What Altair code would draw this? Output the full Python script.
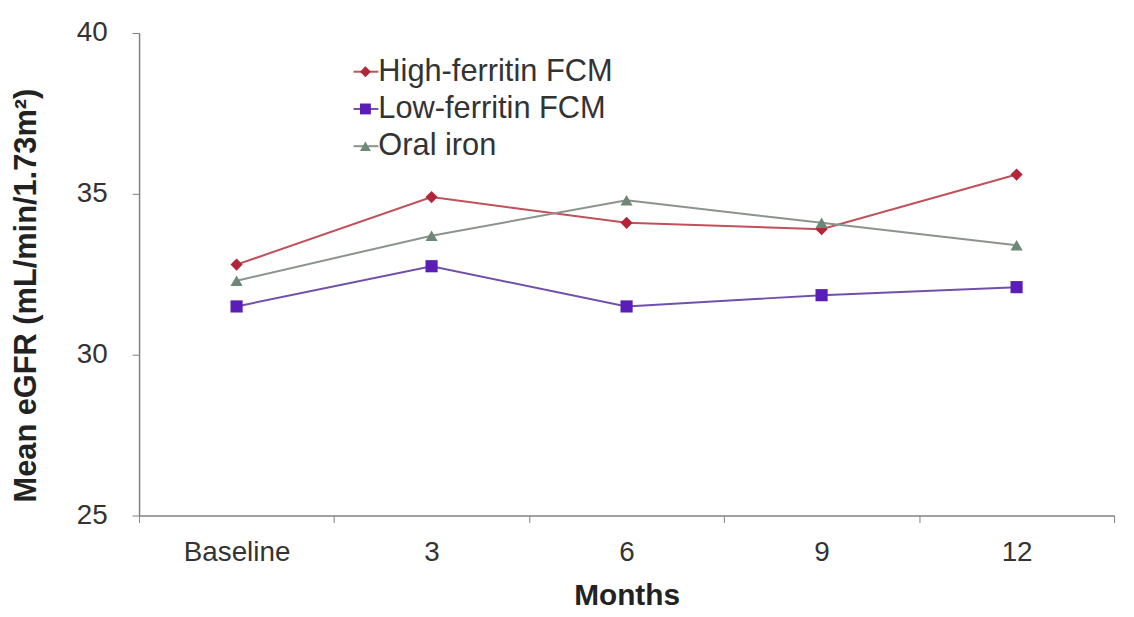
import altair as alt
import pandas as pd

months = ["Baseline", "3", "6", "9", "12"]
series_names = ["High-ferritin FCM", "Low-ferritin FCM", "Oral iron"]
high_ferritin = [32.8, 34.9, 34.1, 33.9, 35.6]
low_ferritin = [31.5, 32.75, 31.5, 31.85, 32.1]
oral_iron = [32.3, 33.7, 34.8, 34.1, 33.4]

marker_colors = ["#b3263a", "#5a1db8", "#6f8776"]
line_colors = ["#c0505a", "#7050a8", "#8a948c"]
shapes = ["diamond", "square", "triangle-up"]

rows = []
for name, vals in zip(series_names, [high_ferritin, low_ferritin, oral_iron]):
    for m, v in zip(months, vals):
        rows.append({"month": m, "series": name, "egfr": v})
df = pd.DataFrame(rows)
legend_df = pd.DataFrame({"series": series_names})

font = "Liberation Sans"

x_enc = alt.X(
    "month:N",
    sort=months,
    bandPosition=0.5,
    scale=alt.Scale(type="band", paddingInner=0, paddingOuter=0),
    axis=alt.Axis(
        title="Months",
        tickBand="extent",
        labelAngle=0,
        labelFontSize=28,
        labelColor="#333333",
        labelFont=font,
        labelPadding=16,
        tickSize=7,
        tickColor="#808080",
        domainColor="#808080",
        domainWidth=1.5,
        titleFontSize=30,
        titleFont=font,
        titleFontWeight="bold",
        titleColor="#222222",
        titlePadding=15,
    ),
)
y_enc = alt.Y(
    "egfr:Q",
    scale=alt.Scale(domain=[25, 40], nice=False, zero=False),
    axis=alt.Axis(
        title="Mean eGFR (mL/min/1.73m²)",
        values=[25, 30, 35, 40],
        grid=False,
        labelFontSize=28,
        labelColor="#333333",
        labelFont=font,
        labelPadding=25,
        tickSize=7,
        tickColor="#808080",
        domainColor="#808080",
        domainWidth=1.5,
        titleFontSize=31,
        titleFont=font,
        titleFontWeight="bold",
        titleColor="#222222",
        titlePadding=34,
        titleY=264,
    ),
)

stroke_enc = alt.Stroke(
    "series:N",
    sort=series_names,
    scale=alt.Scale(domain=series_names, range=line_colors),
    legend=None,
)
color_enc = alt.Color(
    "series:N",
    sort=series_names,
    scale=alt.Scale(domain=series_names, range=marker_colors),
    legend=None,
)
shape_enc = alt.Shape(
    "series:N",
    sort=series_names,
    scale=alt.Scale(domain=series_names, range=shapes),
    legend=None,
)

lines = alt.Chart(df).mark_line(strokeWidth=2).encode(x=x_enc, y=y_enc, stroke=stroke_enc)
points = alt.Chart(df).mark_point(filled=True, size=150, opacity=1).encode(
    x=x_enc, y=y_enc, color=color_enc, shape=shape_enc
)

legend_y = alt.Y(
    "series:N",
    sort=series_names,
    scale=alt.Scale(type="point", padding=0, domain=series_names, range=[39, 114]),
    axis=None,
)
leg_rule = alt.Chart(legend_df).mark_rule(strokeWidth=2).encode(
    x=alt.value(216), x2=alt.value(241), y=legend_y, stroke=stroke_enc
)
leg_point = alt.Chart(legend_df).mark_point(filled=True, size=120, opacity=1).encode(
    x=alt.value(228), y=legend_y, color=color_enc, shape=shape_enc
)
leg_text = alt.Chart(legend_df).mark_text(
    align="left", baseline="middle", font=font, fontSize=31, color="#333333"
).encode(x=alt.value(241), y=legend_y, text="series:N")

legend = alt.layer(leg_rule, leg_point, leg_text)

chart = (
    alt.layer(alt.layer(lines, points), legend)
    .resolve_scale(y="independent")
    .properties(
        width=982,
        height=486,
        autosize=alt.AutoSizeParams(type="none"),
        padding={"left": 132, "top": 23, "right": 12, "bottom": 100},
        background="white",
    )
    .configure_view(stroke=None)
)

chart.save("out.html", embed_options={"renderer": "svg", "actions": False})
